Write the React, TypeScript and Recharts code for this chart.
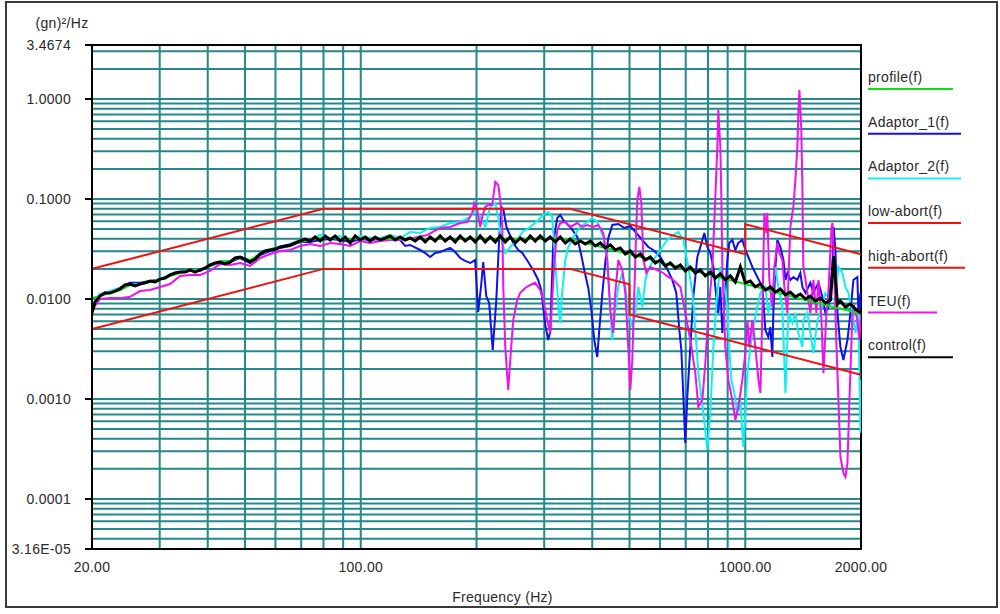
import React from 'react';
import { LineChart, Line, XAxis, YAxis, CartesianGrid, ReferenceArea, Legend } from 'recharts';

const FONT = '"Liberation Sans", Arial, sans-serif';
const GRID = '#23898a';

// frequency (Hz), PSD (gn^2/Hz)
const PROFILE: [number, number][] = [
  [20, 0.0102], [21, 0.0107], [22.3, 0.0115], [23.7, 0.0123], [25.1, 0.0138], [26.7, 0.0141], [28.3, 0.0148],
  [30.1, 0.0158], [31.9, 0.017], [33.9, 0.0182], [36, 0.0191], [38.2, 0.0195], [40.6, 0.0214], [43.1, 0.0234],
  [45.7, 0.024], [48.6, 0.0263], [51.6, 0.0245], [54.7, 0.0282], [58.1, 0.0309], [61.7, 0.0331], [65.5, 0.0347],
  [69.6, 0.0372], [73.9, 0.0389], [78.4, 0.0407], [83.3, 0.0407], [90, 0.0398], [100, 0.04], [120, 0.04],
  [160, 0.0398], [200, 0.04], [350, 0.0398], [500, 0.0282], [700, 0.02], [1000, 0.0141], [1400, 0.01], [2000, 0.0071],
];

const HIGH_ABORT: [number, number][] = [
  [20, 0.02], [80, 0.08], [350, 0.08], [1000, 0.028], [1000, 0.056], [2000, 0.028],
];

const LOW_ABORT: [number, number][] = [
  [20, 0.005], [80, 0.02], [350, 0.02], [500, 0.014], [500, 0.007], [2000, 0.00175],
];

const CONTROL: [number, number][] = [
  [20, 0.00724], [20.36, 0.0093], [20.98, 0.0107], [21.6, 0.0115], [22.28, 0.0115], [22.96, 0.012], [23.65, 0.0126],
  [24.37, 0.0138], [25.11, 0.0141], [25.87, 0.0135], [26.67, 0.0141], [27.48, 0.0145], [28.31, 0.0151], [29.17, 0.0148],
  [30.07, 0.0158], [30.98, 0.0162], [31.92, 0.0174], [32.89, 0.0182], [33.89, 0.0186], [34.92, 0.0186], [35.98, 0.0195],
  [37.08, 0.0186], [38.2, 0.0195], [39.37, 0.0204], [40.56, 0.0219], [41.8, 0.0229], [43.07, 0.0234], [44.37, 0.0224],
  [45.72, 0.0234], [47.12, 0.0257], [48.55, 0.0263], [50.03, 0.0251], [51.55, 0.0234], [53.12, 0.0251], [54.73, 0.0282],
  [56.4, 0.0302], [58.1, 0.0309], [59.89, 0.0316], [61.7, 0.0331], [63.58, 0.0339], [65.51, 0.0347], [67.51, 0.0363],
  [69.56, 0.038], [71.68, 0.0398], [73.86, 0.038], [76.12, 0.0417], [78.42, 0.038], [80.82, 0.0427], [83.26, 0.0389],
  [85.81, 0.0427], [88.4, 0.038], [91.11, 0.0417], [93.86, 0.0363], [96.69, 0.0427], [99.6, 0.0389], [102.7, 0.0417],
  [105.8, 0.038], [109, 0.0417], [112.3, 0.0389], [115.7, 0.0407], [119.2, 0.0427], [122.9, 0.0389], [126.6, 0.0417],
  [130.5, 0.0389], [134.4, 0.0407], [138.5, 0.038], [142.7, 0.0417], [147.1, 0.0372], [151.5, 0.0417], [156.1, 0.038],
  [160.9, 0.0427], [165.8, 0.038], [170.8, 0.0417], [176, 0.0372], [181.4, 0.0427], [186.9, 0.038], [192.6, 0.0417],
  [198.4, 0.0372], [204.5, 0.0427], [210.7, 0.0372], [217.1, 0.0417], [223.8, 0.0372], [230.6, 0.0427], [237.6, 0.0372],
  [244.8, 0.0417], [252.2, 0.0363], [259.9, 0.0407], [267.8, 0.0372], [275.9, 0.0427], [284.3, 0.038], [292.9, 0.0427],
  [301.9, 0.038], [311, 0.0417], [320.5, 0.0372], [330.2, 0.0417], [340.3, 0.0363], [350.6, 0.0398], [361.3, 0.0355],
  [372.3, 0.038], [383.6, 0.0355], [395.3, 0.038], [407.3, 0.0339], [419.7, 0.0363], [432.5, 0.0324], [445.7, 0.0347],
  [459.2, 0.0309], [473.2, 0.0324], [487.6, 0.0282], [502.4, 0.0302], [517.7, 0.0263], [533.5, 0.0282], [549.7, 0.0245],
  [566.3, 0.0263], [583.5, 0.0229], [601.3, 0.0245], [619.5, 0.0214], [638.4, 0.0229], [657.8, 0.0204], [677.9, 0.0219],
  [698.4, 0.0191], [719.7, 0.0209], [741.6, 0.0182], [764.1, 0.0195], [787.4, 0.017], [811.3, 0.0186], [835.9, 0.0162],
  [861.3, 0.0178], [887.5, 0.0155], [914.5, 0.017], [942.3, 0.0148], [971, 0.0209], [1000.6, 0.0145], [1031, 0.0151],
  [1062, 0.0132], [1095, 0.0141], [1128, 0.0123], [1162, 0.0132], [1198, 0.0117], [1234, 0.0126], [1272, 0.011],
  [1310, 0.0117], [1350, 0.0105], [1391, 0.0112], [1434, 0.01], [1477, 0.0107], [1522, 0.00955], [1569, 0.0102],
  [1616, 0.00912], [1666, 0.00977], [1697, 0.0269], [1737, 0.00891], [1768, 0.00955], [1822, 0.00832], [1877, 0.00891],
  [1934, 0.00794], [2000, 0.00724],
];

const ADAPTOR_1: [number, number][] = [
  [20, 0.0085], [20.98, 0.0112], [22.28, 0.0118], [23.65, 0.0129], [25.11, 0.0145], [26.67, 0.0145], [28.31, 0.0151],
  [30.07, 0.0158], [31.92, 0.0174], [33.89, 0.0186], [35.98, 0.0191], [38.2, 0.0191], [40.56, 0.0214], [43.07, 0.0234],
  [45.72, 0.0234], [48.55, 0.0257], [51.55, 0.0229], [54.73, 0.0275], [58.1, 0.0302], [61.7, 0.0324], [65.51, 0.0339],
  [69.56, 0.0372], [73.86, 0.0372], [78.42, 0.0389], [83.26, 0.0398], [88.4, 0.0389], [93.86, 0.0372], [99.6, 0.0398],
  [105.8, 0.0389], [112.3, 0.0398], [119.2, 0.0407], [126.6, 0.0389], [130.5, 0.0339], [134.4, 0.0347], [142.7, 0.0309],
  [147.1, 0.0288], [151.5, 0.0263], [156.1, 0.0288], [160.9, 0.0295], [165.8, 0.0309], [170.8, 0.0324], [176, 0.0295],
  [181.4, 0.0257], [186.9, 0.024], [192.6, 0.0229], [198.4, 0.0245], [202, 0.0074], [205.7, 0.0138], [208.2, 0.0234],
  [212, 0.0107], [215.8, 0.0091], [220.4, 0.00309], [225.2, 0.00977], [229, 0.0389], [232.2, 0.0832], [235, 0.0776],
  [239.3, 0.0525], [249.2, 0.0363], [256.8, 0.0309], [263.2, 0.0288], [272.6, 0.0234], [280.9, 0.0195], [289.4, 0.0155],
  [294.7, 0.0123], [301.9, 0.0055], [307.3, 0.00389], [311, 0.00468], [316.6, 0.0363], [324.4, 0.0646], [330.2, 0.0692],
  [336.2, 0.0617], [350.6, 0.0525], [365.6, 0.0417], [374.5, 0.0275], [381.3, 0.0195], [390.6, 0.0129], [397.7, 0.00776],
  [404.9, 0.00389], [412.2, 0.00263], [417.2, 0.0049], [424.6, 0.011], [432.5, 0.0234], [440.4, 0.0407], [451, 0.055],
  [467.5, 0.0562], [484.7, 0.0513], [502.4, 0.0537], [520.8, 0.0457], [540, 0.0389], [559.6, 0.0331], [576.5, 0.0309],
  [601.3, 0.0263], [623.2, 0.0209], [646, 0.0155], [661.7, 0.0115], [673.9, 0.0049], [682, 0.00309], [690.3, 0.00105],
  [698.4, 0.000363], [706.8, 0.00105], [719.7, 0.00331], [732.7, 0.0105], [750.6, 0.0263], [773.4, 0.0389], [782.7, 0.0457],
  [796.9, 0.0331], [811.3, 0.0288], [825.9, 0.0209], [840.9, 0.0105], [851, 0.00724], [861.3, 0.0132], [871.7, 0.00457],
  [882.2, 0.00832], [898.2, 0.0245], [909, 0.0363], [925.4, 0.0389], [942.3, 0.0309], [959.2, 0.0363], [982.7, 0.0389],
  [1000.6, 0.0309], [1018.7, 0.0263], [1043.6, 0.0209], [1075, 0.0166], [1108, 0.0132], [1128, 0.0049], [1148, 0.00417],
  [1162, 0.00525], [1176, 0.00263], [1183, 0.00724], [1198, 0.0209], [1212, 0.0389], [1234, 0.0331], [1257, 0.0245],
  [1272, 0.0155], [1287, 0.0182], [1310, 0.0155], [1334, 0.0166], [1366, 0.0155], [1391, 0.0182], [1408, 0.0132],
  [1434, 0.0115], [1477, 0.0145], [1504, 0.0115], [1550, 0.0145], [1588, 0.0105], [1616, 0.00724], [1645, 0.00832],
  [1686, 0.0209], [1697, 0.0525], [1716, 0.0309], [1737, 0.00724], [1768, 0.00331], [1800, 0.00245], [1844, 0.00389],
  [1877, 0.00724], [1911, 0.0155], [1957, 0.0166], [1969, 0.00724], [1993, 0.0115], [2000, 0.00832],
];

const ADAPTOR_2: [number, number][] = [
  [20, 0.0087], [20.98, 0.0112], [22.28, 0.012], [23.65, 0.0129], [25.11, 0.0141], [26.67, 0.0141], [28.31, 0.0148],
  [30.07, 0.0158], [31.92, 0.0174], [33.89, 0.0186], [35.98, 0.0195], [38.2, 0.0195], [40.56, 0.0219], [43.07, 0.024],
  [45.72, 0.024], [48.55, 0.0263], [51.55, 0.024], [54.73, 0.0288], [58.1, 0.0316], [61.7, 0.0331], [65.51, 0.0355],
  [69.56, 0.0389], [73.86, 0.0389], [78.42, 0.0437], [83.26, 0.0407], [88.4, 0.0427], [93.86, 0.0389], [99.6, 0.0427],
  [105.8, 0.0407], [112.3, 0.0407], [119.2, 0.0437], [126.6, 0.0407], [134.4, 0.0468], [142.7, 0.0457], [151.5, 0.0513],
  [160.9, 0.0525], [170.8, 0.0575], [181.4, 0.0589], [192.6, 0.0661], [198.4, 0.0776], [204.5, 0.0661], [210.7, 0.0525],
  [217.1, 0.0832], [223.8, 0.0912], [227.9, 0.0646], [232.2, 0.0389], [237.6, 0.0288], [244.8, 0.0331], [255.2, 0.0389],
  [263.2, 0.0468], [275.9, 0.0525], [289.4, 0.0617], [298.2, 0.0692], [307.3, 0.0741], [314.7, 0.0661], [320.5, 0.0245],
  [326.3, 0.00871], [330.2, 0.00575], [334, 0.0115], [340.3, 0.0245], [346.5, 0.0331], [357, 0.0417], [372.3, 0.0525],
  [388.2, 0.0589], [400, 0.0646], [412.2, 0.0589], [427.3, 0.0417], [437.7, 0.0245], [445.7, 0.00724], [451, 0.00389],
  [459.2, 0.00776], [467.5, 0.0132], [478.9, 0.0182], [487.6, 0.0132], [496.4, 0.00776], [508.4, 0.00525], [517.7, 0.00724],
  [527.1, 0.0132], [540, 0.00832], [549.7, 0.0155], [559.6, 0.0195], [576.5, 0.0245], [601.3, 0.0309], [627, 0.0389],
  [649.9, 0.0437], [669.8, 0.0468], [690.3, 0.0389], [711.4, 0.0209], [728.7, 0.0115], [741.6, 0.0049], [755, 0.00182],
  [778.2, 0.000724], [796.9, 0.000309], [811.3, 0.000724], [825.9, 0.00331], [845.9, 0.0115], [861.3, 0.0209],
  [876.9, 0.0155], [898.2, 0.00832], [909, 0.00331], [920, 0.00155], [936.7, 0.00115], [953.6, 0.000724], [971, 0.000977],
  [988.6, 0.000331], [1000.6, 0.000724], [1012.7, 0.00182], [1031, 0.00331], [1049, 0.00525], [1075, 0.00832],
  [1095, 0.0115], [1128, 0.0132], [1148, 0.00724], [1176, 0.0115], [1198, 0.0209], [1219, 0.0132], [1249, 0.00832],
  [1272, 0.00115], [1295, 0.00724], [1326, 0.00575], [1350, 0.00724], [1374, 0.00457], [1408, 0.00331], [1416, 0.00617],
  [1451, 0.00724], [1477, 0.00457], [1504, 0.00288], [1541, 0.00617], [1569, 0.00724], [1616, 0.0115], [1645, 0.0105],
  [1716, 0.00977], [1747, 0.0209], [1790, 0.0182], [1822, 0.0132], [1855, 0.0115], [1900, 0.00724], [1934, 0.00457],
  [1969, 0.00724], [1993, 0.000457], [2000, 0.00155],
];

const TEU: [number, number][] = [
  [20, 0.00776], [20.98, 0.01], [22.28, 0.0102], [23.65, 0.0102], [25.11, 0.0105], [26.67, 0.012], [28.31, 0.0123],
  [30.07, 0.0132], [31.92, 0.0141], [33.89, 0.017], [35.98, 0.0174], [38.2, 0.0174], [40.56, 0.0191], [43.07, 0.0224],
  [45.72, 0.0219], [48.55, 0.0229], [51.55, 0.0214], [54.73, 0.0257], [58.1, 0.0282], [61.7, 0.0302], [65.51, 0.0309],
  [69.56, 0.0339], [73.86, 0.0355], [78.42, 0.0339], [83.26, 0.0363], [88.4, 0.0355], [93.86, 0.0339], [99.6, 0.038],
  [105.8, 0.0363], [112.3, 0.038], [119.2, 0.0389], [126.6, 0.0389], [136.8, 0.0407], [148.9, 0.0437], [160.9, 0.0513],
  [170.8, 0.0525], [181.4, 0.0575], [188.9, 0.0589], [194.9, 0.0724], [197.2, 0.0912], [200.8, 0.0776], [204.5, 0.0525],
  [207, 0.0661], [210.7, 0.0832], [214.5, 0.0871], [219.7, 0.0871], [223.8, 0.148], [227.9, 0.138], [230.6, 0.0977],
  [233.4, 0.0525], [234.8, 0.0132], [237.6, 0.00331], [240.5, 0.00166], [241.9, 0.00123], [244.8, 0.00245],
  [249.2, 0.00617], [255.2, 0.00977], [259.9, 0.0115], [267.8, 0.0129], [275.9, 0.0138], [284.3, 0.0145], [292.9, 0.0123],
  [298.2, 0.00977], [305.5, 0.00617], [311, 0.00457], [314.7, 0.00977], [318.6, 0.0229], [324.4, 0.049], [330.2, 0.0575],
  [340.3, 0.0589], [350.6, 0.0525], [365.6, 0.0575], [376.8, 0.0525], [388.2, 0.055], [402.1, 0.0525], [414.7, 0.055],
  [427.3, 0.0457], [437.7, 0.0245], [445.7, 0.00776], [453.7, 0.00457], [459.2, 0.0115], [467.5, 0.0245], [478.9, 0.0195],
  [487.6, 0.0115], [496.4, 0.00331], [502.4, 0.00123], [508.4, 0.00245], [514.6, 0.0115], [520.8, 0.0525], [523.9, 0.0977],
  [530.3, 0.132], [536.7, 0.0912], [543.1, 0.0245], [553, 0.0182], [566.3, 0.0209], [590.5, 0.0195], [612, 0.0182],
  [630.7, 0.0166], [649.9, 0.0155], [677.9, 0.0132], [698.4, 0.00724], [719.7, 0.00389], [741.6, 0.00182], [755, 0.000832],
  [773.4, 0.000977], [787.4, 0.00229], [801.7, 0.00724], [821.3, 0.0209], [835.9, 0.105], [846, 0.331], [851, 0.776],
  [861.3, 0.331], [866.5, 0.105], [871.7, 0.0209], [887.5, 0.00331], [903.5, 0.00155], [925.4, 0.000977], [942.3, 0.000617],
  [959.2, 0.000832], [982.7, 0.00155], [1000.6, 0.00288], [1012.7, 0.00617], [1025, 0.00331], [1043.6, 0.00617],
  [1062, 0.00331], [1082, 0.00155], [1095, 0.00115], [1108, 0.00724], [1121, 0.0724], [1135, 0.0457], [1141, 0.0724],
  [1155, 0.0155], [1176, 0.00832], [1190, 0.0209], [1212, 0.0363], [1227, 0.0288], [1249, 0.0245], [1264, 0.0132],
  [1287, 0.00724], [1295, 0.0155], [1310, 0.0525], [1326, 0.0724], [1334, 0.0832], [1350, 0.155], [1366, 0.331],
  [1374, 0.724], [1383, 1.23], [1399, 0.49], [1408, 0.123], [1416, 0.0209], [1434, 0.0155], [1451, 0.0115], [1477, 0.00724],
  [1504, 0.0155], [1531, 0.00724], [1550, 0.0155], [1578, 0.00617], [1597, 0.00182], [1626, 0.00724], [1645, 0.0115],
  [1676, 0.0525], [1686, 0.0575], [1697, 0.0288], [1727, 0.00331], [1747, 0.000977], [1768, 0.000263], [1800, 0.000182],
  [1822, 0.000166], [1844, 0.000229], [1866, 0.000977], [1900, 0.00724], [1922, 0.00832], [1957, 0.00617],
  [1981, 0.00389], [2000, 0.00724],
];

const X_TICKS = [20, 30, 40, 50, 60, 70, 80, 90, 100, 200, 300, 400, 500, 600, 700, 800, 900, 1000, 2000];
const X_LABELS: Record<number, string> = { 20: '20.00', 100: '100.00', 1000: '1000.00', 2000: '2000.00' };

const Y_TICKS = [
  0.0000316, 0.00004, 0.00005, 0.00006, 0.00007, 0.00008, 0.00009,
  0.0001, 0.0002, 0.0003, 0.0004, 0.0005, 0.0006, 0.0007, 0.0008, 0.0009,
  0.001, 0.002, 0.003, 0.004, 0.005, 0.006, 0.007, 0.008, 0.009,
  0.01, 0.02, 0.03, 0.04, 0.05, 0.06, 0.07, 0.08, 0.09,
  0.1, 0.2, 0.3, 0.4, 0.5, 0.6, 0.7, 0.8, 0.9,
  1, 2, 3, 3.4674,
];
const Y_LABELS: Record<number, string> = {
  0.0000316: '3.16E-05', 0.0001: '0.0001', 0.001: '0.0010', 0.01: '0.0100', 0.1: '0.1000', 1: '1.0000', 3.4674: '3.4674',
};

const LEGEND_NAMES = ['profile(f)', 'Adaptor_1(f)', 'Adaptor_2(f)', 'low-abort(f)', 'high-abort(f)', 'TEU(f)', 'control(f)'];
const LEGEND_COLORS = ['#10e010', '#1010e8', '#10f0f0', '#f01010', '#f01010', '#f010f0', '#000000'];
const LEGEND_LINE_W = [85, 93, 93, 93, 97, 69, 85];

const pts = (rows: [number, number][]) => rows.map(([f, v]) => ({ f, v }));

const textStyle = { fontFamily: FONT, fontSize: 14, fill: '#2a2a2a', letterSpacing: 0.3 };

function YTick({ x, y, payload }: any) {
  const label = Y_LABELS[payload.value];
  if (!label) return <g />;
  return (
    <g>
      <line x1={x + 14} x2={x + 21} y1={y} y2={y} stroke="#000" strokeWidth={2} />
      <text x={x} y={y} dy="0.35em" textAnchor="end" style={textStyle}>{label}</text>
    </g>
  );
}

function XTick({ x, y, payload }: any) {
  const label = X_LABELS[payload.value];
  if (!label) return <g />;
  return <text x={x} y={y} dy="0.71em" textAnchor="middle" style={textStyle}>{label}</text>;
}

function LegendBox() {
  return (
    <svg width={140} height={310}>
      {LEGEND_NAMES.map((name, i) => (
        <g key={name}>
          <text x={8} y={22 + i * 44.7} style={textStyle}>{name}</text>
          <line x1={8} x2={8 + LEGEND_LINE_W[i]} y1={29 + i * 44.7} y2={29 + i * 44.7} stroke={LEGEND_COLORS[i]} strokeWidth={2} />
        </g>
      ))}
    </svg>
  );
}

function XTitle(props: any) {
  const vb = props.viewBox;
  return (
    <text x={vb.x + vb.width / 2 + 26} y={vb.y + 53} textAnchor="middle" style={textStyle}>Frequency (Hz)</text>
  );
}

export default function App() {
  return (
    <div style={{ position: 'absolute', left: 0, top: 0, width: 1000, height: 614, background: '#fff' }}>
      <div style={{ position: 'absolute', left: 5, top: 1, width: 993, height: 607, border: '2px solid #3a3a3a', boxSizing: 'border-box' }} />
      <div style={{ position: 'absolute', left: 0, top: 0 }}>
        <LineChart width={1000} height={614} margin={{ top: 45, right: 139, bottom: 35, left: 32 }}>
          <CartesianGrid stroke={GRID} strokeWidth={2} />
          <XAxis
            dataKey="f" type="number" scale="log" domain={[20, 2000]} allowDataOverflow
            ticks={X_TICKS} interval={0} tick={<XTick />} tickLine={false} tickSize={6} tickMargin={7}
            axisLine={{ stroke: '#000', strokeWidth: 2 }} height={30}
            label={{ content: <XTitle /> }}
          />
          <YAxis
            type="number" scale="log" domain={[0.0000316, 3.4674]} allowDataOverflow
            ticks={Y_TICKS} interval={0} tick={<YTick />} tickLine={false} tickSize={7} tickMargin={14}
            axisLine={{ stroke: '#000', strokeWidth: 2 }} width={60}
            label={{ value: '(gn)²/Hz', position: 'top', offset: 17, style: textStyle }}
          />
          <Line data={pts(ADAPTOR_1)} dataKey="v" stroke="#1010e8" strokeWidth={2} dot={false} isAnimationActive={false} />
          <Line data={pts(ADAPTOR_2)} dataKey="v" stroke="#10f0f0" strokeWidth={2} dot={false} isAnimationActive={false} />
          <Line data={pts(TEU)} dataKey="v" stroke="#f010f0" strokeWidth={2} dot={false} isAnimationActive={false} />
          <Line data={pts(PROFILE)} dataKey="v" stroke="#10e010" strokeWidth={2} dot={false} isAnimationActive={false} />
          <Line data={pts(LOW_ABORT)} dataKey="v" stroke="#f01010" strokeWidth={2} dot={false} isAnimationActive={false} />
          <Line data={pts(HIGH_ABORT)} dataKey="v" stroke="#f01010" strokeWidth={2} dot={false} isAnimationActive={false} />
          <Line data={pts(CONTROL)} dataKey="v" stroke="#000" strokeWidth={3} dot={false} isAnimationActive={false} />
          <ReferenceArea x1={20} x2={2000} y1={0.0000316} y2={3.4674} fill="none" stroke="#000" strokeWidth={2} />
          <Legend
            layout="vertical" align="center" verticalAlign="middle" width={140}
            wrapperStyle={{ left: 860, top: 60, width: 140, height: 310 }}
            content={() => <LegendBox />}
          />
        </LineChart>
      </div>
    </div>
  );
}
